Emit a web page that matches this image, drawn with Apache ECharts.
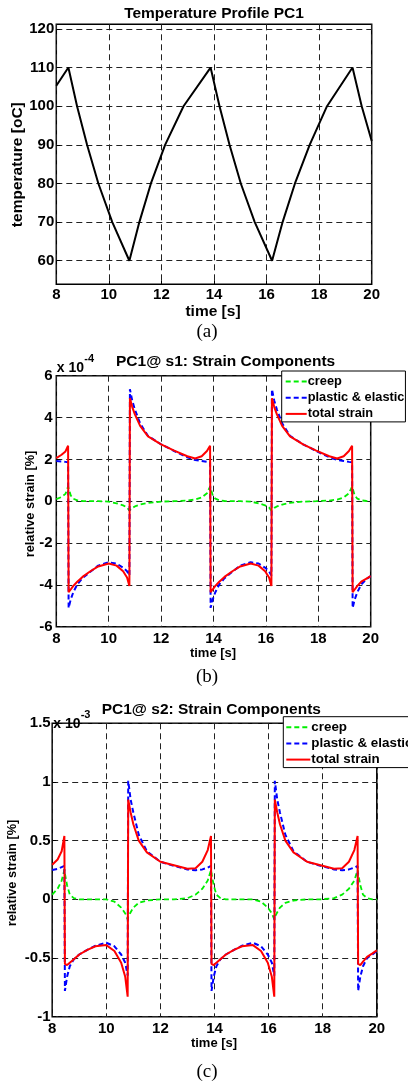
<!DOCTYPE html>
<html>
<head>
<meta charset="utf-8">
<script src="https://cdn.jsdelivr.net/npm/echarts@6/dist/echarts.min.js"></script>
<style>
html,body{margin:0;padding:0;background:#fff;}
#chart{width:408px;height:1081px;}
</style>
</head>
<body>
<div id="chart"></div>
<script>
// ---------- DATA ----------
const timeTicks = [8, 10, 12, 14, 16, 18, 20];
const tempTicks = [60, 70, 80, 90, 100, 110, 120];
const tempRange = [53.9, 121.2];
const strainTicksB = [-6, -4, -2, 0, 2, 4, 6];          // x 10^-4
const strainTicksC = [-1, -0.5, 0, 0.5, 1, 1.5];        // x 10^-3
const legendNames = ['creep', 'plastic & elastic', 'total strain'];

// (a) temperature profile
const tempTime  = [8.00, 8.46, 8.79, 9.17, 9.60, 10.13, 10.78, 11.16, 11.60, 12.14, 12.84, 13.87,
                   14.21, 14.59, 15.02, 15.55, 16.21, 16.61, 17.08, 17.64, 18.30, 19.27, 19.62, 20.00];
const tempValue = [105.3, 110, 100, 90, 80, 70, 60, 70, 80, 90, 100, 110,
                   100, 90, 80, 70, 60, 70, 80, 90, 100, 110, 100, 91];

// (b) and (c) shared time samples [s]
const strainTime = [
  8.00, 8.20, 8.35, 8.45, 8.47, 8.55, 8.65, 8.80, 9.00, 9.30, 9.60, 10.00, 10.30, 10.55, 10.70, 10.79,
  10.81, 10.90, 11.00, 11.20, 11.50, 12.00, 12.50, 13.00, 13.30, 13.55, 13.75, 13.87,
  13.89, 13.97, 14.07, 14.22, 14.42, 14.72, 15.02, 15.42, 15.72, 15.97, 16.12, 16.21,
  16.23, 16.32, 16.42, 16.62, 16.92, 17.42, 17.92, 18.42, 18.72, 18.97, 19.17, 19.29,
  19.31, 19.39, 19.49, 19.64, 19.84, 20.00];

// (b) PC1@ s1 (units of 1e-4 %)
const creepB = [
  0.10, 0.20, 0.35, 0.70, 0.62, 0.28, 0.12, 0.04, 0.01, 0.00, 0.00, -0.02, -0.10, -0.20, -0.30, -0.45,
  -0.42, -0.32, -0.25, -0.16, -0.08, -0.02, 0.00, 0.03, 0.08, 0.18, 0.38, 0.70,
  0.62, 0.28, 0.12, 0.04, 0.01, 0.00, 0.00, -0.02, -0.10, -0.20, -0.30, -0.45,
  -0.42, -0.32, -0.25, -0.16, -0.08, -0.02, 0.00, 0.03, 0.08, 0.18, 0.38, 0.70,
  0.62, 0.28, 0.12, 0.04, 0.01, 0.00];
const plasticB = [
  1.92, 1.90, 1.88, 1.86, -5.10, -4.70, -4.35, -3.98, -3.68, -3.37, -3.08, -2.92, -2.98, -3.18, -3.35, -3.55,
  5.35, 4.80, 4.38, 3.72, 3.12, 2.72, 2.40, 2.10, 1.97, 1.92, 1.88, 1.86,
  -5.10, -4.70, -4.35, -3.98, -3.68, -3.37, -3.08, -2.92, -2.98, -3.18, -3.35, -3.55,
  5.35, 4.80, 4.38, 3.72, 3.12, 2.72, 2.40, 2.10, 1.97, 1.92, 1.88, 1.86,
  -5.10, -4.70, -4.35, -3.98, -3.72, -3.58];
const totalB = [
  2.06, 2.22, 2.38, 2.65, -4.35, -4.22, -4.05, -3.85, -3.62, -3.35, -3.12, -2.98, -3.08, -3.35, -3.65, -4.05,
  4.92, 4.50, 4.15, 3.60, 3.10, 2.72, 2.42, 2.15, 2.04, 2.15, 2.40, 2.65,
  -4.35, -4.22, -4.05, -3.85, -3.62, -3.35, -3.12, -2.98, -3.08, -3.35, -3.65, -4.05,
  4.92, 4.50, 4.15, 3.60, 3.10, 2.72, 2.42, 2.15, 2.04, 2.15, 2.40, 2.65,
  -4.35, -4.22, -4.05, -3.85, -3.70, -3.58];

// (c) PC1@ s2 (units of 1e-3 %)
const creepC = [
  0.04, 0.09, 0.16, 0.25, 0.22, 0.12, 0.04, 0.01, 0.00, 0.00, 0.00, 0.00, -0.02, -0.07, -0.12, -0.17,
  -0.15, -0.11, -0.07, -0.03, -0.01, 0.00, 0.00, 0.01, 0.04, 0.09, 0.16, 0.25,
  0.22, 0.12, 0.04, 0.01, 0.00, 0.00, 0.00, 0.00, -0.02, -0.07, -0.12, -0.17,
  -0.15, -0.11, -0.07, -0.03, -0.01, 0.00, 0.00, 0.01, 0.04, 0.09, 0.16, 0.25,
  0.22, 0.12, 0.04, 0.01, 0.00, 0.00];
const plasticC = [
  0.25, 0.26, 0.275, 0.285, -0.78, -0.66, -0.57, -0.51, -0.47, -0.43, -0.395, -0.37, -0.40, -0.47, -0.54, -0.65,
  1.01, 0.85, 0.74, 0.55, 0.41, 0.32, 0.285, 0.255, 0.248, 0.255, 0.27, 0.285,
  -0.78, -0.66, -0.57, -0.51, -0.47, -0.43, -0.395, -0.37, -0.40, -0.47, -0.54, -0.65,
  1.01, 0.85, 0.74, 0.55, 0.41, 0.32, 0.285, 0.255, 0.248, 0.255, 0.27, 0.285,
  -0.78, -0.66, -0.57, -0.50, -0.47, -0.44];
const totalC = [
  0.295, 0.34, 0.41, 0.54, -0.55, -0.56, -0.54, -0.51, -0.47, -0.43, -0.40, -0.39, -0.44, -0.54, -0.66, -0.83,
  0.85, 0.74, 0.64, 0.50, 0.40, 0.32, 0.29, 0.26, 0.265, 0.32, 0.42, 0.54,
  -0.55, -0.56, -0.54, -0.51, -0.47, -0.43, -0.40, -0.39, -0.44, -0.54, -0.66, -0.83,
  0.85, 0.74, 0.64, 0.50, 0.40, 0.32, 0.29, 0.26, 0.265, 0.32, 0.42, 0.54,
  -0.55, -0.56, -0.53, -0.49, -0.46, -0.435];

// ---------- CHART ----------
const FONT = '"Liberation Sans", Arial, Helvetica, sans-serif';
const SERIF = '"Liberation Serif", "Times New Roman", serif';
const zip = (xs, ys) => xs.map((x, i) => [x, ys[i]]);

const gridLine = { show: true, lineStyle: { color: '#222', width: 1, type: [6, 4] } };
const tickStyle = { show: true, inside: true, length: 4, lineStyle: { color: '#000', width: 1 } };
const labelStyle = (margin) => ({ margin, color: '#000', fontFamily: FONT, fontWeight: 'bold', fontSize: 15 });

function xAxisCfg(gridIndex, margin) {
  return {
    type: 'value', gridIndex,
    min: timeTicks[0], max: timeTicks[timeTicks.length - 1], interval: timeTicks[1] - timeTicks[0],
    axisLine: { show: false }, axisTick: tickStyle, axisLabel: labelStyle(margin), splitLine: gridLine
  };
}
function yAxisCfg(gridIndex, ticks, margin) {
  return {
    type: 'value', gridIndex,
    min: ticks[0], max: ticks[ticks.length - 1], interval: ticks[1] - ticks[0],
    axisLine: { show: false }, axisTick: tickStyle, axisLabel: labelStyle(margin), splitLine: gridLine
  };
}
const yA = {
  type: 'value', gridIndex: 0, min: tempRange[0], max: tempRange[1],
  axisLine: { show: false },
  axisTick: Object.assign({}, tickStyle, { customValues: tempTicks }),
  axisLabel: Object.assign(labelStyle(2), { customValues: tempTicks }),
  splitLine: gridLine
};

function strainSeries(idx, creep, plastic, total) {
  return [
    { name: legendNames[0], type: 'line', xAxisIndex: idx, yAxisIndex: idx, data: zip(strainTime, creep),
      symbol: 'none', color: '#00ee00', itemStyle: { opacity: 0 }, lineStyle: { color: '#00ee00', width: 1.8, type: [5, 3] } },
    { name: legendNames[1], type: 'line', xAxisIndex: idx, yAxisIndex: idx, data: zip(strainTime, plastic),
      symbol: 'none', color: '#0000ff', itemStyle: { opacity: 0 }, lineStyle: { color: '#0000ff', width: 2, type: [5, 3] } },
    { name: legendNames[2], type: 'line', xAxisIndex: idx, yAxisIndex: idx, data: zip(strainTime, total),
      symbol: 'none', color: '#ff0000', itemStyle: { opacity: 0 }, lineStyle: { color: '#ff0000', width: 2 } }
  ];
}
function legendCfg(left, top, iconW, padLeft, fontSize) {
  return {
    data: legendNames, orient: 'vertical', left, top,
    itemWidth: iconW, itemHeight: 13, itemGap: 3.2,
    padding: [4, 1, 1.5, padLeft],
    backgroundColor: '#fff', borderColor: '#000', borderWidth: 1, borderRadius: 0,
    selectedMode: false,
    itemStyle: { opacity: 0, color: 'transparent', borderWidth: 0 },
    textStyle: { color: '#000', fontFamily: FONT, fontWeight: 'bold', fontSize, padding: [0, 0, 0, -4] }
  };
}
function txt(text, x, y, font, extra) {
  return Object.assign({
    type: 'text', x, y, z: 100,
    style: { text, font, fill: '#000', align: 'center', verticalAlign: 'middle' }
  }, extra || {});
}
function ltxt(text, x, y, font) {
  return { type: 'text', x, y, z: 100, style: { text, font, fill: '#000', align: 'left', verticalAlign: 'middle' } };
}
const R90 = Math.PI / 2;

const option = {
  animation: false,
  backgroundColor: '#fff',
  grid: [
    { left: 56.3, top: 24.3, width: 315.4, height: 260, show: true, borderColor: '#000', borderWidth: 1.5, backgroundColor: 'transparent', containLabel: false },
    { left: 56.3, top: 375.7, width: 314.4, height: 251, show: true, borderColor: '#000', borderWidth: 1.5, backgroundColor: 'transparent', containLabel: false },
    { left: 52.2, top: 723.3, width: 324.6, height: 293.4, show: true, borderColor: '#000', borderWidth: 1.5, backgroundColor: 'transparent', containLabel: false }
  ],
  xAxis: [xAxisCfg(0, 3), xAxisCfg(1, 4.5), xAxisCfg(2, 4.5)],
  yAxis: [yA, yAxisCfg(1, strainTicksB, 3.6), yAxisCfg(2, strainTicksC, 1.5)],
  legend: [legendCfg(281.7, 371, 21, 3, 12.8), legendCfg(283.3, 716.7, 24, 2, 13.4)],
  series: [
    { name: 'temperature', type: 'line', xAxisIndex: 0, yAxisIndex: 0, data: zip(tempTime, tempValue),
      symbol: 'none', color: '#000', lineStyle: { color: '#000', width: 2 } }
  ].concat(strainSeries(1, creepB, plasticB, totalB), strainSeries(2, creepC, plasticC, totalC)),
  graphic: [
    // (a)
    txt('Temperature Profile PC1', 214, 13.3, 'bold 15.5px ' + FONT),
    txt('time [s]', 213, 311.7, 'bold 15.5px ' + FONT),
    txt('temperature [oC]', 18, 164.7, 'bold 15.5px ' + FONT, { rotation: R90 }),
    txt('(a)', 207, 332, '19px ' + SERIF),
    // (b)
    txt('PC1@ s1: Strain Components', 225.6, 361.7, 'bold 15.5px ' + FONT),
    ltxt('x 10', 56.7, 367.7, 'bold 14px ' + FONT),
    ltxt('-4', 84.3, 359, 'bold 11px ' + FONT),
    txt('relative strain [%]', 30, 504, 'bold 12.8px ' + FONT, { rotation: R90 }),
    txt('time [s]', 213, 653.3, 'bold 13px ' + FONT),
    txt('(b)', 207, 676.7, '19px ' + SERIF),
    // (c)
    txt('PC1@ s2: Strain Components', 211.3, 710, 'bold 15.5px ' + FONT),
    ltxt('x 10', 53.3, 724, 'bold 14px ' + FONT),
    ltxt('-3', 80.7, 715, 'bold 11px ' + FONT),
    txt('relative strain [%]', 12, 873, 'bold 12.8px ' + FONT, { rotation: R90 }),
    txt('time [s]', 214, 1043.3, 'bold 13px ' + FONT),
    txt('(c)', 207, 1071.7, '19px ' + SERIF)
  ]
};

const chart = echarts.init(document.getElementById('chart'), null, { renderer: 'canvas' });
chart.setOption(option);
</script>
</body>
</html>
